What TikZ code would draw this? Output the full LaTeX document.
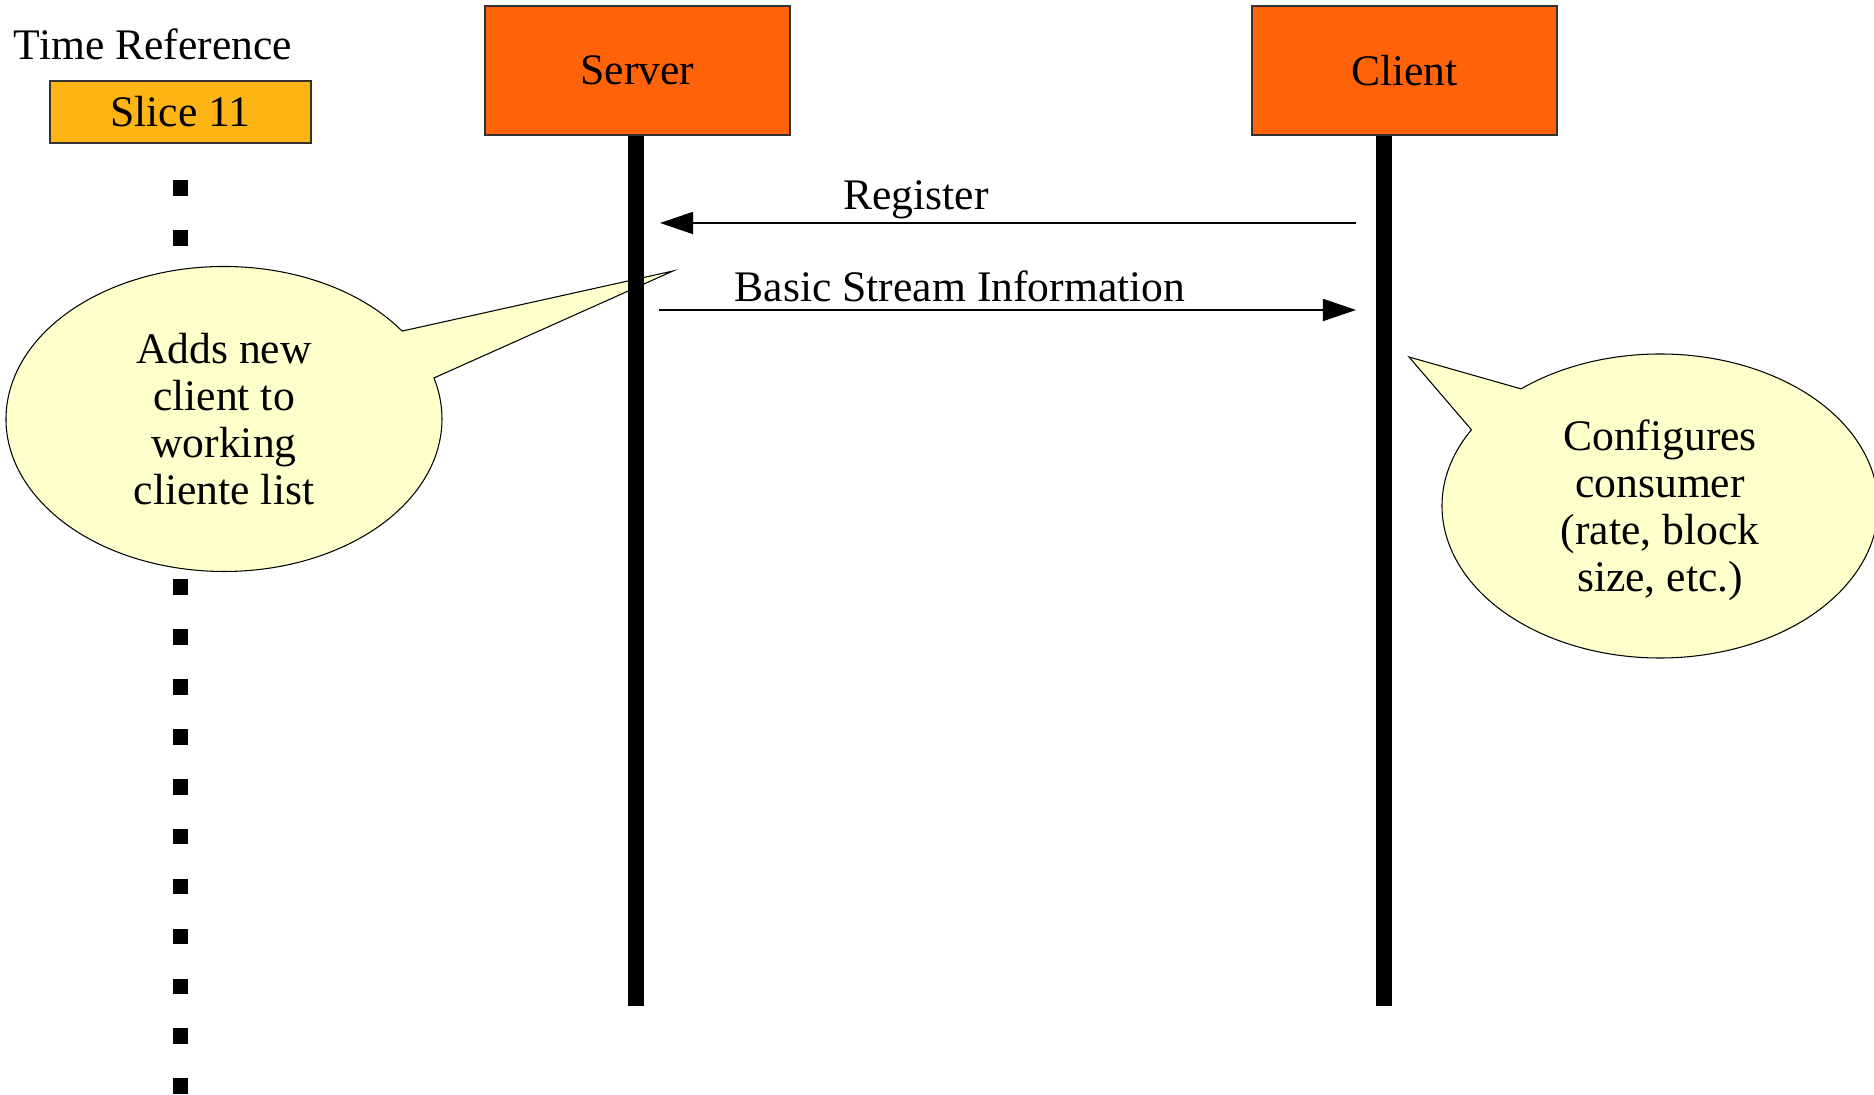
\documentclass[tikz,border=0pt]{standalone}
\usepackage{fontspec}
\setmainfont{Liberation Serif}
\usepackage{tikz}
\usetikzlibrary{arrows.meta}
\definecolor{actor}{HTML}{FF6309}
\definecolor{slice}{HTML}{FDB515}
\definecolor{note}{HTML}{FFFFCC}

\begin{document}
\begin{tikzpicture}[>={Triangle[length=9.4pt,width=6.3pt]}, x=0.01cm, y=0.01cm,
  every node/.style={font=\fontsize{12.4}{13.4}\selectfont},
  actorbox/.style={draw=black!80, line width=0.45pt, fill=actor, minimum width=3.05cm, minimum height=1.29cm, inner sep=0pt},
  lifeline/.style={line width=4.5pt},
  msg/.style={->, line width=0.35pt},
  callout/.style={draw, line width=0.3pt, fill=note}]
\useasboundingbox (0,0) rectangle (1874,1095);

% Time reference column
\node[anchor=base] (tref) at (153,1035) {Time Reference};
\node[draw=black!80, line width=0.45pt, fill=slice, minimum width=2.61cm, minimum height=0.62cm, inner sep=0pt] (slice) at (180.5,983) {Slice 11};
\foreach \k in {0,...,18}
  \fill (180.5,907-49.9*\k) +(-7.8,-7.8) rectangle +(7.8,7.8);

% Callouts (drawn before the lifelines)
\coordinate (lnote) at (224,676);
\coordinate (ltip) at (673,824);
\draw[callout] (lnote) ++(35.2:218 and 152.5) arc[start angle=35.2, end angle=375.6, x radius=218, y radius=152.5] -- (ltip) -- cycle;
\node[align=center] (ltext) at (lnote) {Adds new\\client to\\working\\cliente list};

\coordinate (rnote) at (1660,589);
\coordinate (rtip) at (1409,738);
\draw[callout] (rnote) ++(149.9:218 and 152) arc[start angle=149.9, end angle=489.6, x radius=218, y radius=152] -- (rtip) -- cycle;
\node[align=center, yshift=-0.04cm] (rtext) at (rnote) {Configures\\consumer\\(rate, block\\size, etc.)};

% Actors and lifelines
\node[actorbox] (server) at (637.5,1024.5) {Server};
\node[actorbox] (client) at (1404.5,1024.5) {Client};
\coordinate (srvend) at (636,89);
\coordinate (clend) at (1384,89);
\draw[lifeline] (server.south -| srvend) -- (srvend);
\draw[lifeline] (client.south -| clend) -- (clend);

% Messages
\coordinate (s1) at (636,872); \coordinate (c1) at (1384,872);
\coordinate (s2) at (636,785); \coordinate (c2) at (1384,785);
\draw[msg, shorten <=0.28cm, shorten >=0.24cm] (c1) -- (s1);
\draw[msg, shorten <=0.23cm, shorten >=0.28cm] (s2) -- (c2);
\node[anchor=base] (reg) at (916,885) {Register};
\node[anchor=base] (bsi) at (960,793) {Basic Stream Information};
\end{tikzpicture}
\end{document}
